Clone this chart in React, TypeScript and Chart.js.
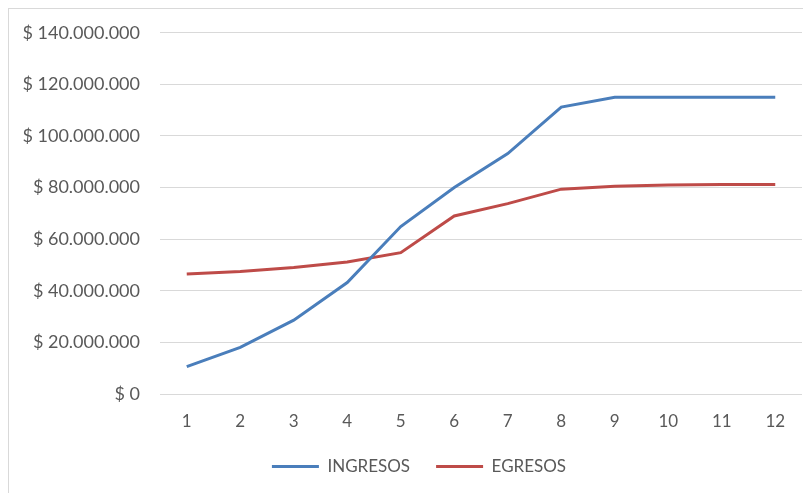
import React, { useEffect, useRef } from "react";
import { Chart, registerables } from "chart.js";

Chart.register(...registerables);

const months = ["1", "2", "3", "4", "5", "6", "7", "8", "9", "10", "11", "12"];
const ingresos = [10600000, 18100000, 28600000, 43200000, 64900000, 80000000, 93200000, 111200000, 115000000, 115000000, 115000000, 115000000];
const egresos = [46500000, 47500000, 49000000, 51200000, 54800000, 69000000, 73800000, 79400000, 80500000, 81000000, 81200000, 81200000];
const yMin = 0;
const yMax = 140000000;
const yStep = 20000000;

const fmt = (v: number) => "$ " + String(Math.round(v)).replace(/\B(?=(\d{3})+(?!\d))/g, ".");

export default function App() {
  const ref = useRef<HTMLCanvasElement | null>(null);
  useEffect(() => {
    if (!ref.current) return;
    const font = { family: "Lato, 'Open Sans', sans-serif", size: 17 };
    const yFont = { family: "Lato, 'Open Sans', sans-serif", size: 18 };
    const chart = new Chart(ref.current, {
      type: "line",
      data: {
        labels: months,
        datasets: [
          { label: "INGRESOS", data: ingresos, borderColor: "#4a7ebb", backgroundColor: "#4a7ebb", borderWidth: 3, pointRadius: 0, tension: 0 },
          { label: "EGRESOS", data: egresos, borderColor: "#be4b48", backgroundColor: "#be4b48", borderWidth: 3, pointRadius: 0, tension: 0 },
        ],
      },
      options: {
        animation: false,
        responsive: false,
        maintainAspectRatio: false,
        layout: { padding: { top: 0, right: 9, left: 27, bottom: 8 } },
        plugins: {
          tooltip: { enabled: false },
          legend: {
            position: "bottom",
            labels: {
              usePointStyle: true,
              pointStyle: "line",
              pointStyleWidth: 47,
              color: "#595959",
              font,
              padding: 26,
            },
          },
        },
        scales: {
          x: {
            offset: true,
            afterFit: (s: any) => { s.height = 38; },
            grid: { display: false, drawTicks: false },
            border: { display: false },
            ticks: { color: "#595959", font, padding: 17 },
          },
          y: {
            min: yMin,
            max: yMax,
            afterFit: (s: any) => {
              s.width = 124;
              s._computeLabelArea = () => undefined;
            },
            grid: { color: "#d9d9d9", drawTicks: true, tickLength: 7, tickColor: "rgba(0,0,0,0)", lineWidth: 1 },
            border: { display: false },
            ticks: { stepSize: yStep, color: "#595959", font: yFont, padding: 13, callback: (v: any) => fmt(Number(v)) },
          },
        },
      },
    });
    return () => chart.destroy();
  }, []);
  return (
    <div style={{ width: 802, height: 484, borderLeft: "1px solid #d9d9d9", borderTop: "1px solid #d9d9d9" }}>
      <canvas ref={ref} width={802} height={484} style={{ display: "block" }} />
    </div>
  );
}
